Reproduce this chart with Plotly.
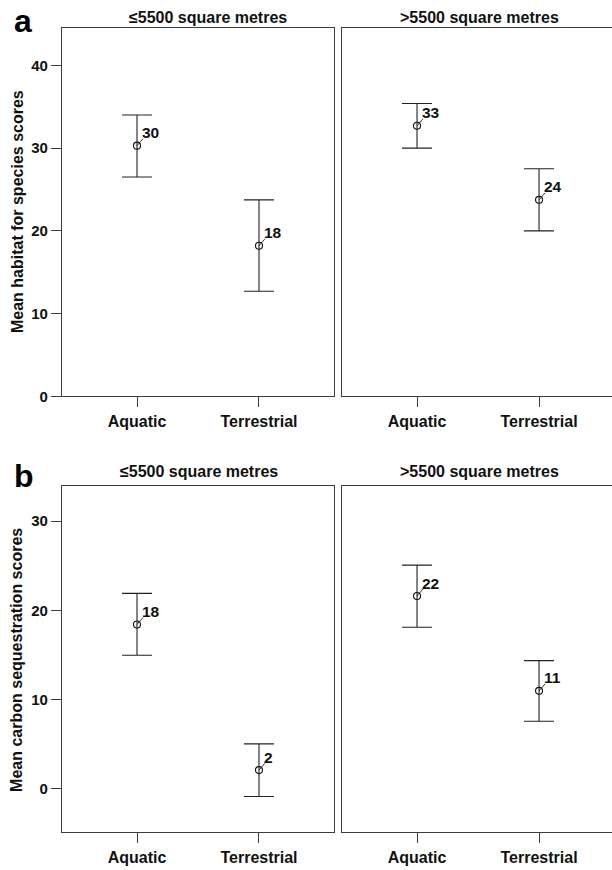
import plotly.graph_objects as go

# ---------------- data ----------------
categories = ["Aquatic", "Terrestrial"]
panel_titles = ["≤5500 square metres", ">5500 square metres"]
panel_letters = ["a", "b"]
y_titles = ["Mean habitat for species scores", "Mean carbon sequestration scores"]

habitat_small_mean = [30.3, 18.2]
habitat_small_upper = [34.0, 23.75]
habitat_small_lower = [26.5, 12.7]

habitat_large_mean = [32.7, 23.75]
habitat_large_upper = [35.4, 27.5]
habitat_large_lower = [30.0, 20.0]

carbon_small_mean = [18.4, 2.05]
carbon_small_upper = [21.9, 5.0]
carbon_small_lower = [14.95, -0.92]

carbon_large_mean = [21.6, 10.95]
carbon_large_upper = [25.07, 14.35]
carbon_large_lower = [18.1, 7.53]

habitat_ticks = [0, 10, 20, 30, 40]
carbon_ticks = [0, 10, 20, 30]

# ---------------- layout geometry ----------------
W, H = 612, 870
FONT = "Liberation Sans, Arial, Helvetica, sans-serif"
LINE = "#3c3c3c"
TXT = "#111111"


def px_x(p):
    return p / W


def px_y(p):
    return 1 - p / H


rows = [
    dict(top=28, bottom=400, yrange=[0, 44.55], ticks=habitat_ticks,
         data=[(habitat_small_mean, habitat_small_upper, habitat_small_lower),
               (habitat_large_mean, habitat_large_upper, habitat_large_lower)],
         title_y=[18, 18], title_x=[208, 479], letter_y=41, ytitle_y=214),
    dict(top=491, bottom=840, yrange=[-4.93, 33.9], ticks=carbon_ticks,
         data=[(carbon_small_mean, carbon_small_upper, carbon_small_lower),
               (carbon_large_mean, carbon_large_upper, carbon_large_lower)],
         title_y=[476, 476], title_x=[198.5, 479], letter_y=501, ytitle_y=666),
]
cols = [dict(left=62, right=334, xrange=[-0.615, 1.615], mirror_y=True),
        dict(left=342, right=612, xrange=[-0.615, 1.598], mirror_y=False)]

fig = go.Figure()
layout = dict(width=W, height=H, margin=dict(l=0, r=0, t=0, b=0),
              paper_bgcolor="white", plot_bgcolor="white", showlegend=False,
              font=dict(family=FONT, color=TXT, weight="bold"))
annotations = []

idx = 0
for r, row in enumerate(rows):
    for c, col in enumerate(cols):
        idx += 1
        xa = "xaxis" if idx == 1 else f"xaxis{idx}"
        ya = "yaxis" if idx == 1 else f"yaxis{idx}"
        xr = "x" if idx == 1 else f"x{idx}"
        yr = "y" if idx == 1 else f"y{idx}"
        mean, upper, lower = row["data"][c]
        fig.add_trace(go.Scatter(
            x=categories, y=mean, mode="markers", xaxis=xr, yaxis=yr,
            marker=dict(symbol="circle-open", size=7, color="#111",
                        line=dict(width=1.1, color="#111")),
            error_y=dict(type="data", symmetric=False,
                         array=[u - m for u, m in zip(upper, mean)],
                         arrayminus=[m - l for m, l in zip(mean, lower)],
                         width=15, thickness=1.1, color="#222"),
            cliponaxis=False,
        ))
        layout[xa] = dict(
            domain=[px_x(col["left"]), px_x(col["right"])],
            anchor=yr, type="category", range=col["xrange"],
            showline=True, linecolor=LINE, linewidth=1.3, mirror=True,
            ticks="outside", ticklen=10, tickwidth=1.1, tickcolor=LINE,
            showgrid=False, zeroline=False,
            tickfont=dict(size=16, family=FONT, color=TXT, weight="bold"),
        )
        layout[ya] = dict(
            domain=[px_y(row["bottom"]), px_y(row["top"])],
            anchor=xr, range=row["yrange"],
            showline=True, linecolor=LINE, linewidth=1.3, mirror=col["mirror_y"],
            showgrid=False, zeroline=False,
            tickvals=row["ticks"],
            ticks="outside" if c == 0 else "", ticklen=10, tickwidth=1.1,
            tickcolor=LINE, showticklabels=(c == 0),
            tickfont=dict(size=15, family=FONT, color=TXT, weight="bold"),
        )
        # value labels with short leader lines
        for cat, m in zip(categories, mean):
            annotations.append(dict(
                x=cat, y=m, xref=xr, yref=yr, text=" ",
                showarrow=True, arrowhead=0, arrowwidth=0.9, arrowcolor="#222",
                ax=6, ay=-7, standoff=0, borderpad=0, borderwidth=0,
                font=dict(size=1, color="rgba(0,0,0,0)"),
            ))
            annotations.append(dict(
                x=cat, y=m, xref=xr, yref=yr, text=str(round(m)),
                showarrow=False, xshift=5, yshift=13, xanchor="left",
                yanchor="middle", borderpad=0, borderwidth=0,
                font=dict(size=15.5, family=FONT, color=TXT, weight="bold"),
            ))
        # panel titles
        annotations.append(dict(
            x=px_x(row["title_x"][c]), y=px_y(row["title_y"][c]),
            xref="paper", yref="paper", text=panel_titles[c], showarrow=False,
            xanchor="center", yanchor="middle",
            font=dict(size=16, family=FONT, color=TXT, weight="bold"),
        ))
    # panel letter
    annotations.append(dict(
        x=px_x(12), y=px_y(row["letter_y"]), xref="paper", yref="paper",
        text=panel_letters[r], showarrow=False, xanchor="left", yanchor="bottom",
        font=dict(size=32, family=FONT, color="#000", weight="bold"),
    ))
    # y-axis title
    annotations.append(dict(
        x=px_x(17), y=px_y(row["ytitle_y"]), xref="paper", yref="paper",
        text=y_titles[r], showarrow=False, textangle=-90,
        xanchor="center", yanchor="middle",
        font=dict(size=16, family=FONT, color=TXT, weight="bold"),
    ))

layout["annotations"] = annotations
fig.update_layout(**layout)
fig.write_html(
    "out.html",
    config={"displayModeBar": False},
    post_script=("document.body.style.margin='0';"
                 "document.body.style.overflow='hidden';"
                 "document.documentElement.style.overflow='hidden';"),
)
